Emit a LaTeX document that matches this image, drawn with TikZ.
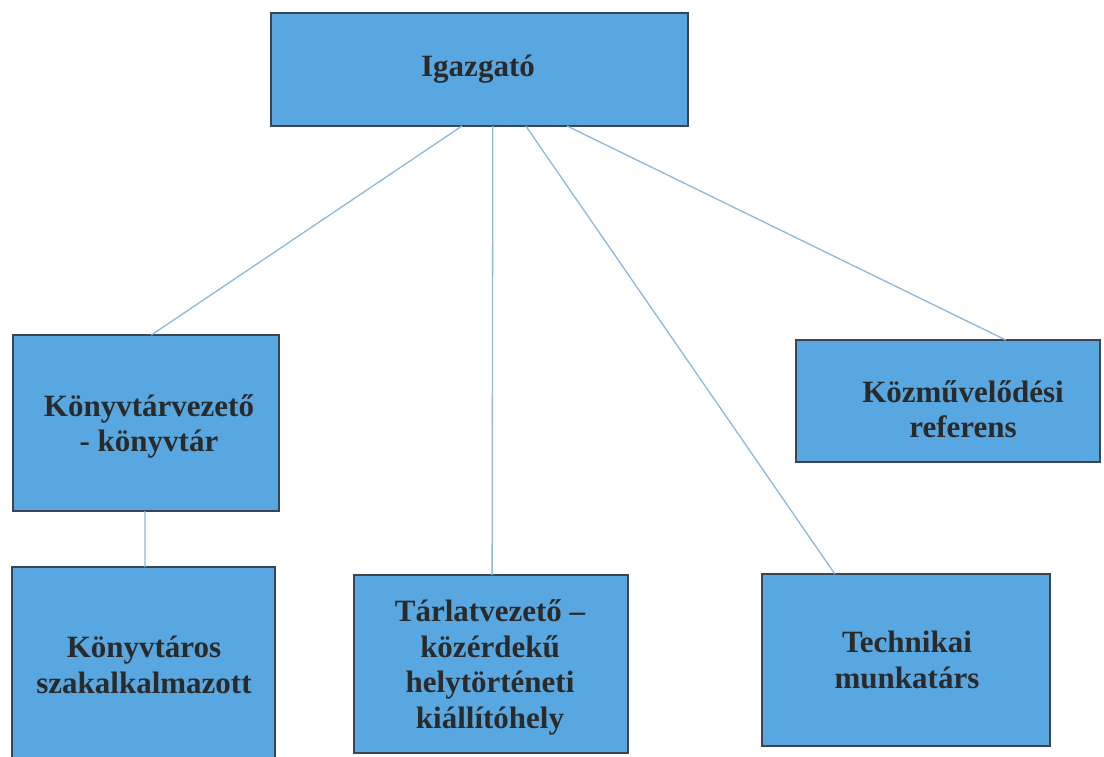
\documentclass[tikz,border=0pt]{standalone}
\usepackage{fontspec}
\setmainfont{Liberation Serif}
\usetikzlibrary{calc}
\definecolor{boxfill}{HTML}{58A7E0}
\definecolor{boxline}{HTML}{3A4550}
\definecolor{conn}{HTML}{8DB8DF}
\definecolor{txt}{HTML}{2A2A2A}
\tikzset{
  orgbox/.style={draw=boxline, line width=1.6pt, fill=boxfill, rectangle, inner sep=0pt, outer sep=0pt},
  orgtext/.style={text=txt, font=\fontsize{31}{35.5}\selectfont\bfseries, align=center, inner sep=0pt},
  link/.style={draw=conn, line width=1.3pt}
}
\begin{document}
\begin{tikzpicture}[x=1pt,y=-1pt]
\useasboundingbox (0,0) rectangle (1104,756);
\fill[white] (0,0) rectangle (1104,756);
% boxes
\node[orgbox, minimum width=417pt, minimum height=113pt] (ig) at (479.5,69.5) {};
\node[orgbox, minimum width=266pt, minimum height=176pt] (kv) at (146,423) {};
\node[orgbox, minimum width=304pt, minimum height=122pt] (koz) at (948,401) {};
\node[orgbox, minimum width=263pt, minimum height=200pt] (kon) at (143.5,667) {};
\node[orgbox, minimum width=274pt, minimum height=178pt] (tar) at (491,664) {};
\node[orgbox, minimum width=288pt, minimum height=172pt] (tec) at (906,660) {};
% texts
\node[orgtext] (igt) at (478,69) {Igazgató};
\node[orgtext] (kvt) at (149,426.5) {Könyvtárvezető\\- könyvtár};
\node[orgtext] (kozt) at (963,409) {Közművelődési\\referens};
\node[orgtext] (kont) at (144,665) {Könyvtáros\\szakalkalmazott};
\node[orgtext] (tart) at (490,667.5) {Tárlatvezető –\\közérdekű\\helytörténeti\\kiállítóhely};
\node[orgtext] (tect) at (907,660) {Technikai\\munkatárs};
% connectors
\draw[link] ($(ig.south west)!0.458!(ig.south east)$) -- ($(kv.north west)!0.52!(kv.north east)$);
\draw[link] ($(ig.south west)!0.532!(ig.south east)$) -- ($(tar.north west)!0.504!(tar.north east)$);
\draw[link] ($(ig.south west)!0.611!(ig.south east)$) -- ($(tec.north west)!0.253!(tec.north east)$);
\draw[link] ($(ig.south west)!0.710!(ig.south east)$) -- ($(koz.north west)!0.69!(koz.north east)$);
\draw[link] ($(kv.south west)!0.496!(kv.south east)$) -- ($(kon.north west)!0.506!(kon.north east)$);
\end{tikzpicture}
\end{document}
